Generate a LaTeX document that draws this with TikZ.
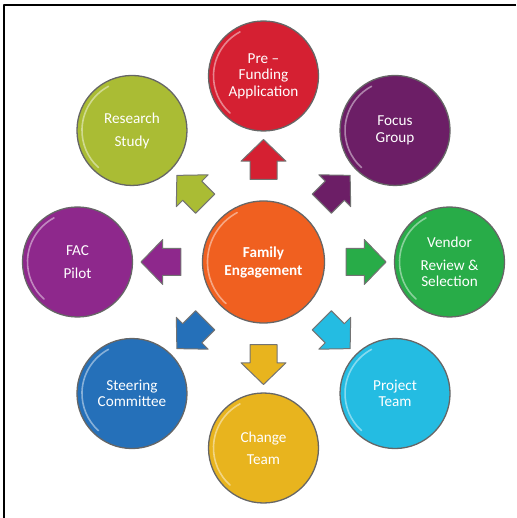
\documentclass[tikz,border=0pt]{standalone}
\usepackage{fontspec}
\setmainfont{Carlito}
\usepackage{xcolor}
\usetikzlibrary{calc,shapes.arrows}
\definecolor{cfe}{HTML}{F06020}
\definecolor{cpre}{HTML}{D52032}
\definecolor{cfocus}{HTML}{6C1E66}
\definecolor{cvendor}{HTML}{28AC48}
\definecolor{cproject}{HTML}{24BCE2}
\definecolor{cchange}{HTML}{E8B41E}
\definecolor{csteer}{HTML}{2570B9}
\definecolor{cfac}{HTML}{8E288C}
\definecolor{cresearch}{HTML}{AABC34}
\tikzset{
  ball/.style={circle, draw=black!60, line width=1.3pt, minimum size=110pt, inner sep=0pt,
    text=white, align=center, font=\fontsize{15.2}{16.5}\selectfont},
  hub/.style={ball, minimum size=122pt, font=\bfseries\fontsize{15.2}{18}\selectfont},
  blockarr/.style={single arrow, draw=black!55, line width=1pt, minimum height=40pt,
    minimum width=44pt, single arrow head extend=9pt, single arrow tip angle=92,
    inner xsep=0pt, inner ysep=13pt},
  gloss/.style={white, opacity=.45, line width=1.6pt, line cap=round},
  every picture/.style={line cap=round, line join=round}
}

\begin{document}
\begin{tikzpicture}[x=1pt, y=1pt]
  \useasboundingbox (-263.5,-256) rectangle (252.5,262);
  \draw[line width=2.2pt, line cap=butt] (252.5,257) -- (-259.5,257) -- (-259.5,-256);

  \node[hub, fill=cfe] (fe) at (0,0) {Family\\Engagement};
  \node[ball, fill=cpre]      (pre)      at (90:186)  {Pre \textendash\\Funding\\Application};
  \node[ball, fill=cfocus]    (focus)    at (45:186)  {Focus\\Group};
  \node[ball, fill=cvendor]   (vendor)   at (0:186)   {Vendor\\[6.5pt]Review \&\\Selection};
  \node[ball, fill=cproject]  (project)  at (-45:186) {Project\\Team};
  \node[ball, fill=cchange]   (change)   at (-90:186) {Change\\[5.5pt]Team};
  \node[ball, fill=csteer]    (steer)    at (-135:186){Steering\\Committee};
  \node[ball, fill=cfac]      (fac)      at (180:186) {FAC\\[6.5pt]Pilot};
  \node[ball, fill=cresearch] (research) at (135:186) {Research\\[6.5pt]Study};

  % glossy rim on every ball
  \foreach \n/\r in {fe/56,pre/50,focus/50,vendor/50,project/50,change/50,steer/50,fac/50,research/50}
    \draw[gloss] ($(\n.center)+(118:\r)$) arc (118:228:\r);

  % block arrows pointing out of the hub
  \foreach \n/\c/\a in {pre/cpre/90, focus/cfocus/45, vendor/cvendor/0, project/cproject/-45,
                        change/cchange/-90, steer/csteer/-135, fac/cfac/180, research/cresearch/135}
    \node[blockarr, fill=\c, rotate=\a] (arr-\n) at ($(fe.center)!96pt!(\n.center)$) {};
\end{tikzpicture}
\end{document}
